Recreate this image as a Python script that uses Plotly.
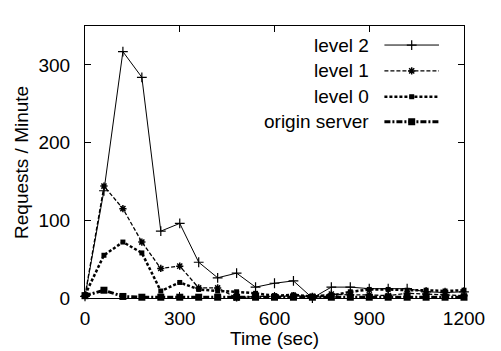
import plotly.graph_objects as go

time_sec = [0, 60, 120, 180, 240, 300, 360, 420, 480, 540, 600, 660, 720, 780, 840, 900, 960, 1020, 1080, 1140, 1200]
level2 = [2, 138, 317, 284, 86, 96, 46, 26, 32, 14, 19, 22, 0, 14, 14, 12, 12, 12, 8, 7, 8]
level1 = [3, 144, 115, 72, 38, 41, 13, 13, 0, 2, 2, 3, 2, 5, 4, 4, 3, 6, 5, 4, 3]
level0 = [4, 55, 72, 58, 9, 20, 11, 9, 8, 6, 3, 4, 2, 3, 8, 11, 11, 10, 10, 9, 10]
origin = [3, 10, 2, 1, 1, 1, 1, 1, 1, 1, 1, 1, 1, 1, 1, 1, 1, 1, 1, 1, 1]
names = ["level 2", "level 1", "level 0", "origin server"]
x_ticks = [0, 300, 600, 900, 1200]
y_ticks = [0, 100, 200, 300]
x_title = "Time (sec)"
y_title = "Requests / Minute"

FONT = "Liberation Sans, Arial, Helvetica, sans-serif"
FS = 19
styles = [
    dict(line=dict(color="black", width=1, dash="solid"),
         marker=dict(symbol="cross-thin-open", size=7, color="black", line=dict(color="black", width=1.2))),
    dict(line=dict(color="black", width=1.3, dash="4px,2px"),
         marker=dict(symbol="asterisk-open", size=6, color="black", line=dict(color="black", width=1.5))),
    dict(line=dict(color="black", width=2.5, dash="3px,2px"),
         marker=dict(symbol="square", size=5, color="black")),
    dict(line=dict(color="black", width=3, dash="6px,2px,2px,2px"),
         marker=dict(symbol="square", size=7, color="black")),
]

fig = go.Figure()
for name, ys, st in zip(names, [level2, level1, level0, origin], styles):
    fig.add_trace(go.Scatter(x=time_sec, y=ys, mode="lines+markers", name=name,
                             line=st["line"], marker=st["marker"], cliponaxis=False,
                             showlegend=False))

# gnuplot-style key: text right-aligned, sample line to the right
key_y = [0.93, 0.835, 0.74, 0.648]
for name, ky, st in zip(names, key_y, styles):
    fig.add_trace(go.Scatter(x=[0.79, 0.862, 0.934], y=[ky, ky, ky], mode="lines",
                             line=st["line"], xaxis="x2", yaxis="y2", showlegend=False,
                             hoverinfo="skip"))
    fig.add_trace(go.Scatter(x=[0.862], y=[ky], mode="markers",
                             marker=st["marker"], xaxis="x2", yaxis="y2", showlegend=False,
                             hoverinfo="skip"))
    fig.add_annotation(x=0.755, y=ky, xref="x2", yref="y2", text=name, showarrow=False,
                       xanchor="right", yanchor="middle", font=dict(size=FS, family=FONT, color="black"))

# axis titles
fig.add_annotation(x=0.5, y=-0.15, xref="paper", yref="paper", text=x_title, showarrow=False,
                   xanchor="center", yanchor="middle", font=dict(size=FS, family=FONT, color="black"))
fig.add_annotation(x=-0.169, y=0.5, xref="paper", yref="paper", text=y_title, showarrow=False,
                   textangle=-90, xanchor="center", yanchor="middle",
                   font=dict(size=FS, family=FONT, color="black"))

fig.update_layout(
    width=501, height=351,
    margin=dict(l=85, r=37, t=26, b=53),
    paper_bgcolor="white", plot_bgcolor="white",
    font=dict(family=FONT, size=FS, color="black"),
    xaxis=dict(range=[0, 1200], tickvals=x_ticks, ticks="inside", ticklen=6, tickcolor="black",
               showline=True, linecolor="black", linewidth=1, mirror="ticks", showgrid=False,
               zeroline=False, ticklabelstandoff=3, automargin=False),
    yaxis=dict(range=[0, 350], tickvals=y_ticks, ticks="inside", ticklen=6, tickcolor="black",
               showline=True, linecolor="black", linewidth=1, mirror="ticks", showgrid=False,
               zeroline=False, ticklabelstandoff=10, automargin=False),
    xaxis2=dict(range=[0, 1], overlaying="x", visible=False, fixedrange=True),
    yaxis2=dict(range=[0, 1], overlaying="y", visible=False, fixedrange=True),
)
fig.write_html("out.html")
